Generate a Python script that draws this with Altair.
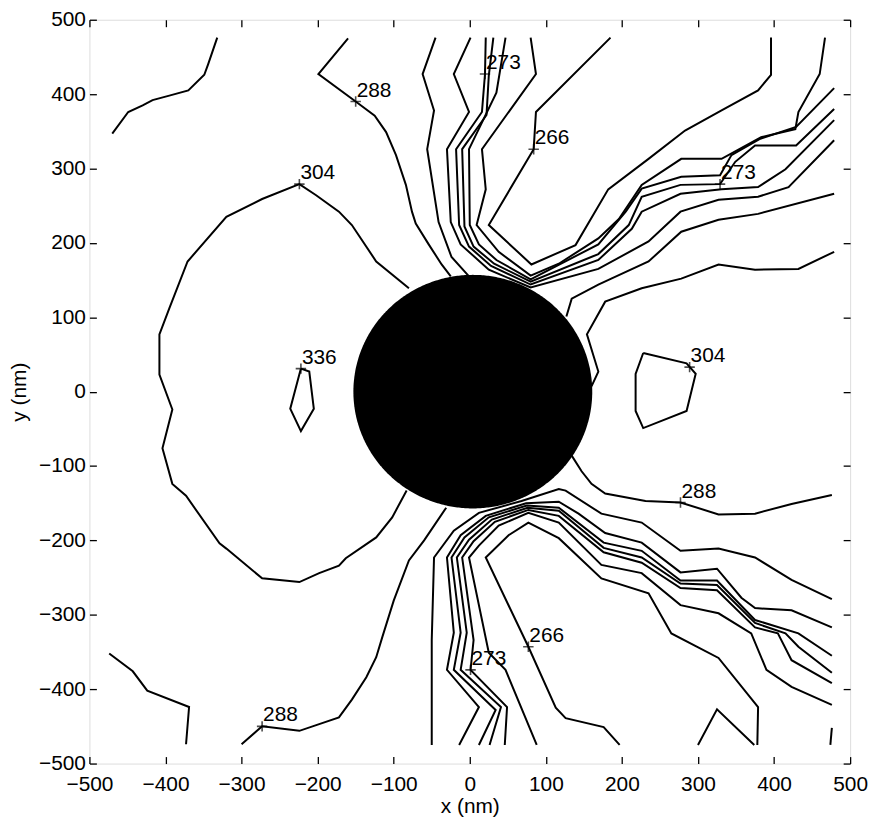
import altair as alt
import numpy as np
import pandas as pd

# ---------------- contour polylines (x, y in nm) ----------------
TL_X = [-470, -449, -430, -417, -395, -370, -349, -344, -332]
TL_Y = [347, 376, 385, 392, 398, 405, 426, 440, 476]

C288_UP_X = [-160, -199, -150, -125, -110, -97, -84, -76, -71, -54, -37, -25]
C288_UP_Y = [475, 427, 390, 371, 349, 318, 278, 242, 226, 198, 171, 155]

C304_L_X = [-80, -123, -155, -172, -202, -224, -273, -320, -371, -395, -408, -408, -391,
            -404, -391, -373, -329, -320, -273, -224, -198, -172, -163, -123, -102, -83]
C304_L_Y = [139, 175, 224, 242, 264, 279, 259, 235, 175, 112, 77, 23, -24,
            -76, -124, -140, -204, -211, -251, -256, -244, -234, -224, -196, -169, -133]

C336_X = [-222, -211, -205, -222, -236, -222]
C336_Y = [31, 27, -23, -53, -23, 31]

C288_LL_X = [-31, -60, -80, -100, -115, -123, -136, -155, -172, -224, -273, -300]
C288_LL_Y = [-156, -200, -227, -281, -330, -357, -384, -414, -438, -456, -450, -474]

BL_X = [-474, -443, -424, -369, -373]
BL_Y = [-352, -376, -402, -424, -474]

A_X = [-45, -62, -47, -56, -41, -24, -1]
A_Y = [476, 427, 378, 326, 228, 181, 155]

B_X = [1, -21, -1, -30, -25, -12, 25, 80, 169, 235, 277, 327, 379, 419, 479]
B_Y = [476, 427, 376, 326, 228, 198, 164, 140, 165, 202, 242, 258, 262, 275, 338]

C_X = [21, 20, 16, -18, -14, -1, 28, 80, 169, 213, 226, 277, 331, 379, 415, 479]
C_Y = [476, 427, 376, 326, 224, 195, 169, 144, 177, 219, 242, 266, 272, 275, 299, 365]

D_X = [31, 25, 22, -10, -7, 5, 32, 80, 169, 209, 226, 277, 329, 349, 375, 429, 479]
D_Y = [476, 425, 372, 326, 222, 195, 172, 148, 185, 224, 262, 278, 279, 309, 331, 331, 380]

E_X = [47, 35, -1, 0, 12, 35, 80, 169, 205, 226, 278, 329, 344, 382, 429, 479]
E_Y = [476, 402, 326, 224, 198, 177, 151, 198, 242, 273, 289, 291, 318, 340, 356, 408]

F_X = [80, 87, 16, 21, 9, 38, 80, 117, 169, 196, 226, 278, 331, 383, 428, 432, 460, 467]
F_Y = [476, 427, 326, 272, 224, 188, 156, 172, 206, 232, 278, 313, 313, 342, 353, 376, 427, 476]

G_X = [185, 87, 84, 25, 81, 139, 182, 235, 283, 331, 379, 396, 396]
G_Y = [476, 376, 326, 224, 171, 197, 272, 313, 351, 378, 405, 426, 476]

R5_X = [479, 379, 327, 278, 235, 186, 169, 134, 127]
R5_Y = [266, 239, 231, 215, 175, 152, 144, 125, 101]

R6_X = [479, 432, 375, 327, 278, 226, 178, 154, 169, 160]
R6_Y = [188, 165, 164, 171, 152, 139, 121, 77, 27, 7]

C304_R_X = [228, 285, 297, 285, 228, 218, 218, 228]
C304_R_Y = [52, 38, 24, -26, -49, -26, 24, 52]

C288_R_X = [134, 147, 160, 178, 231, 277, 327, 375, 423, 476]
C288_R_Y = [-86, -107, -124, -137, -147, -149, -165, -164, -151, -139]

B1_X = [-50, -50, -47, -21, 12, 68, 117, 126, 173, 226, 277, 327, 375, 423, 476]
B1_Y = [-475, -334, -223, -187, -163, -147, -131, -133, -164, -176, -214, -211, -223, -253, -279]

B2_X = [-14, 12, -30, -21, -30, -12, 21, 74, 117, 143, 178, 226, 277, 325, 357, 375, 423, 476]
B2_Y = [-475, -424, -374, -324, -223, -193, -167, -150, -148, -164, -190, -203, -243, -238, -277, -291, -294, -317]

B3_X = [12, 34, -21, -12, -24, -7, 25, 75, 117, 176, 226, 277, 325, 375, 432, 476]
B3_Y = [-475, -428, -374, -324, -223, -196, -169, -153, -156, -203, -214, -254, -254, -307, -325, -355]

B4_X = [26, 41, -12, -4, -17, -1, 29, 76, 117, 176, 226, 277, 325, 375, 415, 432, 476]
B4_Y = [-475, -424, -374, -324, -223, -199, -172, -156, -160, -210, -223, -258, -260, -311, -325, -343, -378]

B5_X = [46, 49, 1, 5, -10, 5, 33, 77, 117, 176, 226, 277, 325, 375, 405, 423, 476]
B5_Y = [-475, -424, -374, -334, -223, -201, -175, -159, -167, -216, -230, -264, -267, -317, -325, -361, -392]

B6_X = [88, 47, 25, -1, 12, 38, 77, 117, 173, 226, 277, 327, 370, 390, 423, 476]
B6_Y = [-475, -374, -351, -223, -207, -180, -163, -176, -233, -244, -287, -298, -325, -374, -397, -421]

B7_X = [197, 176, 126, 113, 77, 21, 51, 77, 117, 173, 235, 265, 327, 379, 378]
B7_Y = [-475, -451, -439, -425, -343, -223, -193, -176, -197, -251, -271, -325, -358, -424, -475]

CAP_X = [300, 325, 374]
CAP_Y = [-475, -427, -475]

SEG_X = [476, 474]
SEG_Y = [-452, -475]

# ---------------- contour labels ----------------
LABEL_TEXT = ["288", "304", "273", "266", "273", "336", "304", "288", "266", "273", "288"]
LABEL_X = [-150, -224, 20, 84, 329, -222, 289, 277, 77, 1, -273]
LABEL_Y = [390, 279, 427, 326, 279, 31, 33, -149, -343, -374, -450]

# ---------------- particle (filled disk) ----------------
DISK_CX = 4
DISK_CY = 0
DISK_R = 157

TICKS = [-500, -400, -300, -200, -100, 0, 100, 200, 300, 400, 500]

lines = [
    ("tl", TL_X, TL_Y), ("c288up", C288_UP_X, C288_UP_Y), ("c304l", C304_L_X, C304_L_Y),
    ("c336", C336_X, C336_Y), ("c288ll", C288_LL_X, C288_LL_Y), ("bl", BL_X, BL_Y),
    ("a", A_X, A_Y), ("b", B_X, B_Y), ("c", C_X, C_Y), ("d", D_X, D_Y), ("e", E_X, E_Y),
    ("f", F_X, F_Y), ("g", G_X, G_Y), ("r5", R5_X, R5_Y), ("r6", R6_X, R6_Y),
    ("c304r", C304_R_X, C304_R_Y), ("c288r", C288_R_X, C288_R_Y),
    ("b1", B1_X, B1_Y), ("b2", B2_X, B2_Y), ("b3", B3_X, B3_Y), ("b4", B4_X, B4_Y),
    ("b5", B5_X, B5_Y), ("b6", B6_X, B6_Y), ("b7", B7_X, B7_Y),
    ("cap", CAP_X, CAP_Y), ("seg", SEG_X, SEG_Y),
]
rows = []
for name, xs_, ys_ in lines:
    for i, (x, y) in enumerate(zip(xs_, ys_)):
        rows.append({"line": name, "i": i, "x": x, "y": y})
df_lines = pd.DataFrame(rows)

df_labels = pd.DataFrame({"text": LABEL_TEXT, "x": LABEL_X, "y": LABEL_Y})

theta = np.linspace(0, np.pi, 241)
df_disk = pd.DataFrame({
    "x": DISK_CX + DISK_R * np.cos(theta),
    "y": DISK_CY + DISK_R * np.sin(theta),
    "y2": DISK_CY - DISK_R * np.sin(theta),
}).sort_values("x")

FONT = "Liberation Sans"
FS = 21
xs = alt.Scale(domain=[-500, 500], nice=False, zero=False)
ys = alt.Scale(domain=[-500, 500], nice=False, zero=False)

common_axis = dict(values=TICKS, domain=False, grid=False, tickSize=7, offset=-7,
                   tickColor="black", tickWidth=1.3, labelFont=FONT, labelFontSize=FS,
                   labelColor="black", titleFont=FONT, titleFontSize=FS,
                   titleFontWeight="normal", titleColor="black")

x_bottom = alt.Axis(orient="bottom", title="x (nm)", labelPadding=10, titlePadding=1,
                    labelFlush=False, **common_axis)
y_left = alt.Axis(orient="left", title="y (nm)", labelPadding=4, titlePadding=9,
                  labelFlush=False, **common_axis)
x_top = alt.Axis(orient="top", title=None, labels=False, **common_axis)
y_right = alt.Axis(orient="right", title=None, labels=False, **common_axis)

contours = alt.Chart(df_lines).mark_line(color="black", strokeWidth=2).encode(
    x=alt.X("x:Q", scale=xs, axis=x_bottom),
    y=alt.Y("y:Q", scale=ys, axis=y_left),
    detail="line:N",
    order="i:Q",
)

disk = alt.Chart(df_disk).mark_area(color="black", opacity=1).encode(
    x=alt.X("x:Q", scale=xs, axis=x_top),
    y=alt.Y("y:Q", scale=ys, axis=y_right),
    y2="y2:Q",
)

markers = alt.Chart(df_labels).mark_point(
    shape="M-1,0L1,0M0,-1L0,1", size=110, filled=False, color="black", strokeWidth=1.6
).encode(
    x=alt.X("x:Q", scale=xs, axis=None),
    y=alt.Y("y:Q", scale=ys, axis=None),
)

texts = alt.Chart(df_labels).mark_text(
    align="left", baseline="alphabetic", dx=1, dy=-5, font=FONT, fontSize=FS, color="black"
).encode(
    x=alt.X("x:Q", scale=xs, axis=None),
    y=alt.Y("y:Q", scale=ys, axis=None),
    text="text:N",
)

chart = alt.layer(contours, disk, markers, texts).resolve_axis(
    x="independent", y="independent"
).properties(
    width=766, height=749,
    padding={"left": 0, "top": -2, "right": 0, "bottom": 0},
).configure_view(
    stroke="black", strokeWidth=2
).configure(background="white")

chart.save("out.html", embed_options={"renderer": "svg", "actions": False})
